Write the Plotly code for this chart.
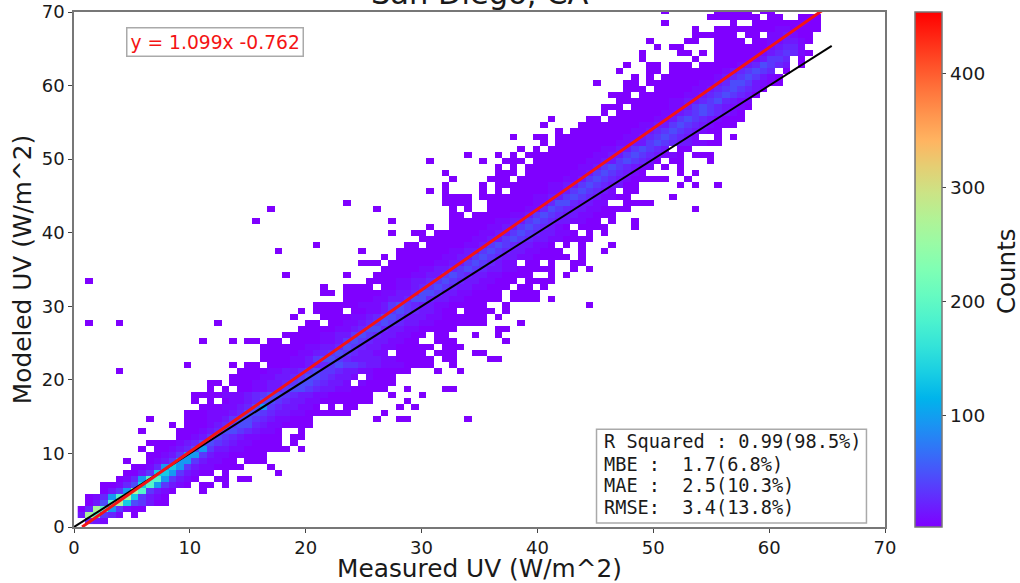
import numpy as np
import plotly.graph_objects as go

# Estimated 2-D histogram: one entry per row (bottom to top),
# each row a list of (first column, cell levels); '.' is an empty bin.
ROW_SEGMENTS = [
 [(1,"432")],
 [(0,"3a9542"),(7,"1")],
 [(0,"14a975211")],
 [(1,"1369a865311")],
 [(1,"12479a85321")],
 [(3,"1357a95321"),(16,"1")],
 [(3,"112468975321"),(16,"11"),(19,"1")],
 [(5,"12479975321"),(18,"11"),(21,"11")],
 [(6,"113588753211"),(19,"1"),(26,"1")],
 [(7,"112478753221111"),(25,"1")],
 [(6,"1"),(9,"123577532211"),(22,"111")],
 [(9,"1123577532211111")],
 [(8,"1"),(10,"11234675332211111"),(27,"1"),(29,"1")],
 [(9,"111123466543221111"),(28,"1")],
 [(13,"11235654322111"),(28,"11")],
 [(8,"1"),(13,"11123466543221"),(29,"1")],
 [(12,"1"),(14,"11123456643221111")],
 [(9,"1"),(14,"11122356654322111"),(39,"1"),(42,"11"),(51,"1")],
 [(14,"1112223466543322111111"),(40,"1")],
 [(16,"1112234675433221.1.11"),(42,"1"),(44,"1")],
 [(15,"1.1."),(19,"12234665433221111111"),(43,"1")],
 [(15,"111122234566543322111111"),(41,"1"),(45,"1")],
 [(17,"1.1."),(21,"11223356654332211111"),(43,"1"),(48,"11")],
 [(17,"11."),(20,"1112233456654332.21111")],
 [(20,"1111223345665433"),(36,"2.2111")],
 [(5,"1"),(21,"11112233456554332211111"),(47,"1"),(50,"1")],
 [(14,"1"),(20,"1"),(22,"11"),(25,"1112233456554332221111"),(49,"1")],
 [(24,"11112235665433332211111"),(48,"11"),(54,"11")],
 [(24,"11111223456543322.1111.111"),(52,"11")],
 [(24,"11111122334654332211111"),(48,"111")],
 [(16,"1"),(20,"1"),(22,"11"),(25,"11"),(28,"11112235654332211"),(47,"111"),(56,"1")],
 [(27,"1111122335654332211"),(47,"11"),(52,"1"),(55,"1")],
 [(29,"111112234664332211111"),(55,"11")],
 [(1,"1"),(5,"1"),(18,"1"),(30,"11."),(33,"112234565433221111111"),(58,"1")],
 [(28,"1"),(32,"1111223466533322111111"),(55,"1")],
 [(29,"1."),(31,"1111."),(36,"11223565433211.1111"),(56,"1")],
 [(31,"111111"),(37,"22235654332211111"),(56,"1"),(67,"1")],
 [(35,"111122334664332211111"),(57,"1111"),(62,"1")],
 [(32,"11."),(35,"111112233466533221111"),(57,"1111")],
 [(32,"1"),(35,"1111."),(40,"11223456543322111"),(58,"11"),(61,"1")],
 [(1,"1"),(38,"11112233456543322111"),(59,"1111")],
 [(27,"1"),(35,"1"),(39,"111112233565433221111"),(62,"1"),(64,"1")],
 [(40,"11111223345654332211111"),(65,"1"),(67,"1")],
 [(37,"111."),(41,"11111122335654322.11.1"),(65,"11")],
 [(40,"1."),(42,"11111122335654332211111"),(66,"1")],
 [(26,"1"),(37,"1"),(42,"1111111223356543322111"),(66,"1"),(69,"1")],
 [(31,"1"),(43,"11."),(46,"11111223565433221.1"),(66,"1"),(70,"1")],
 [(45,"11111112233565433221111")],
 [(41,"1"),(44,"11."),(47,"1111112233565433221.1.1")],
 [(46,"1"),(49,"1111122335654321.1111"),(73,"1")],
 [(23,"1"),(41,"1"),(49,"11111122335654332211.1"),(73,"1")],
 [(49,"11."),(52,"1111122356543322111")],
 [(25,"1"),(39,"1"),(49,"1.1"),(54,"1111122465433221111"),(81,"1")],
 [(35,"1"),(48,"1111"),(54,"1111112246643322"),(72,"1111")],
 [(48,"1111."),(53,"11111112233565432211"),(78,"1")],
 [(46,"1.1"),(53,"1.1."),(57,"11111223565432."),(72,"11")],
 [(48,"1"),(53,"1."),(55,"1111111223356543311"),(79,"1"),(81,"1"),(84,"1")],
 [(49,"1"),(54,"111."),(58,"11111122356543211111"),(80,"1")],
 [(48,"1"),(55,"111."),(59,"1111112235654321"),(79,"1"),(81,"1")],
 [(55,"1.1."),(59,"11111112235654322.1.1")],
 [(46,"1"),(53,"1"),(56,"111."),(60,"11111112233565431."),(78,"11"),(83,"1")],
 [(51,"1"),(55,"1"),(57,"1."),(59,"111111111223356543221"),(81,"111")],
 [(58,"1.1."),(62,"1111111223356543.11")],
 [(61,"1."),(63,"1111111122335654332211")],
 [(57,"1"),(60,"11."),(63,"1111111112234565432"),(84,"1"),(86,"1")],
 [(63,"1."),(65,"11111111223456543211")],
 [(61,"1"),(66,"111111112233565432111")],
 [(62,"1"),(67,"11."),(70,"111111223565432111")],
 [(69,"1."),(71,"11111122345654321")],
 [(69,"111."),(73,"1111122356543221")],
 [(71,"111111122334564322")],
 [(70,"111."),(74,"1111112234565431")],
 [(72,"111."),(76,"111112234565431")],
 [(68,"1"),(72,"11."),(75,"111111122346653211")],
 [(73,"1.1."),(77,"1111111234565321")],
 [(71,"1"),(75,"11."),(78,"11111112345654.1")],
 [(72,"1"),(75,"11."),(78,"111."),(82,"111112346543.1")],
 [(74,"1"),(81,"1."),(84,"1111123554.1")],
 [(74,"1"),(79,"11."),(82,"1."),(84,"1111112345421")],
 [(76,"1"),(78,"11"),(84,"111111123442")],
 [(75,"1"),(80,"11"),(84,"1111.11223321")],
 [(81,"111111.11.223211")],
 [(81,"1"),(84,"11111111221111")],
 [(77,"1"),(86,"1"),(89,"111111111")],
 [(83,"1111111.11"),(95,"111")],
 [(77,"1"),(84,"11111"),(90,"11")],
]
# Count that each level character stands for
LEVEL_COUNTS = {"1":2,"2":8,"3":16,"4":24,"5":34,"6":46,"7":95,"8":135,"9":190,"a":265}

COLORBAR_TICKS = [100, 200, 300, 400]
COUNT_MIN, COUNT_MAX = 2, 453.5
AXIS_TICKS = [0, 10, 20, 30, 40, 50, 60, 70]
FIT_SLOPE, FIT_INTERCEPT = 1.099, -0.762
ONE_TO_ONE_X = [0, 65.4]
FIT_X = [0.7, 65.4]
EQUATION = "y = 1.099x -0.762"
STATS = ["R Squared : 0.99(98.5%)", "MBE :  1.7(6.8%)", "MAE :  2.5(10.3%)", "RMSE:  3.4(13.8%)"]

N_COLS = 100
z = np.full((len(ROW_SEGMENTS), N_COLS), np.nan)
for r, segments in enumerate(ROW_SEGMENTS):
    for start, cells in segments:
        for i, ch in enumerate(cells):
            if ch != ".":
                z[r, start + i] = LEVEL_COUNTS[ch]

def rainbow_stops(n=21):
    stops = []
    for t in np.linspace(0, 1, n):
        rc = abs(2 * t - 0.5)
        g = np.sin(np.pi * t)
        b = np.cos(np.pi * t / 2)
        stops.append([float(t), "rgb(%d,%d,%d)" % (min(rc, 1) * 255, g * 255, b * 255)])
    return stops

FONT = "DejaVu Sans"
TEXT = "#1a1a1a"
fig = go.Figure()
fig.add_trace(go.Heatmap(
    z=z, x0=0.32 + 0.654 / 2, dx=0.654, y0=0.4 + 0.8155 / 2, dy=0.8155,
    zmin=COUNT_MIN, zmax=COUNT_MAX, colorscale=rainbow_stops(), hoverongaps=False,
    colorbar=dict(
        x=(915 - 74) / 811, xanchor="left", xpad=0, y=0, yanchor="bottom", ypad=0,
        len=1, lenmode="fraction", thickness=27, thicknessmode="pixels",
        tickvals=COLORBAR_TICKS, ticks="outside", ticklen=4, tickcolor="#444",
        tickfont=dict(family=FONT, size=18.5, color=TEXT),
        outlinecolor="#777", outlinewidth=1.5,
    ),
))
fig.add_trace(go.Scatter(x=ONE_TO_ONE_X, y=ONE_TO_ONE_X, mode="lines",
                         line=dict(color="black", width=2), showlegend=False))
fig.add_trace(go.Scatter(x=FIT_X, y=[FIT_SLOPE * v + FIT_INTERCEPT for v in FIT_X], mode="lines",
                         line=dict(color="#f41414", width=3), showlegend=False))

axis = dict(range=[0, 70], tickvals=AXIS_TICKS, ticks="outside", ticklen=4, tickcolor="#444",
            showline=True, mirror=True, linecolor="#777", linewidth=1.5, automargin=False,
            ticklabeloverflow="allow", showgrid=False, zeroline=False,
            tickfont=dict(family=FONT, size=18, color=TEXT))
fig.update_xaxes(**axis, title=dict(text="Measured UV (W/m^2)", standoff=7,
                                    font=dict(family=FONT, size=24.8, color=TEXT)))
fig.update_yaxes(**axis, title=dict(text="Modeled UV (W/m^2)", standoff=3,
                                    font=dict(family=FONT, size=24.8, color=TEXT)))

stat_lines = [dict(text=s.replace(" ", "\u00a0"), xref="x", yref="y", x=45.6, y=yy, xanchor="left",
                   yanchor="middle", showarrow=False,
                   font=dict(family="DejaVu Sans Mono", size=18.6, color=TEXT))
              for s, yy in zip(STATS, [11.6, 8.55, 5.6, 2.65])]

fig.update_layout(
    width=1020, height=583, margin=dict(l=74, r=135, t=12, b=56, autoexpand=False),
    paper_bgcolor="white", plot_bgcolor="white", showlegend=False,
    shapes=[dict(type="rect", xref="x", yref="y", x0=45.1, x1=68.4, y0=0.55, y1=13.3,
                 fillcolor="white", line=dict(color="#aaaaaa", width=1.5), layer="above")],
    annotations=[
        dict(text="San Diego, CA", xref="paper", yref="paper", x=0.5, y=1, yanchor="bottom",
             xanchor="center", yshift=-1, showarrow=False, font=dict(family=FONT, size=30.5, color=TEXT)),
        dict(text="Counts", xref="paper", yref="paper", x=(1006 - 74) / 811, y=(527 - 271) / 515,
             xanchor="center", yanchor="middle", textangle=-90, showarrow=False,
             font=dict(family=FONT, size=24.5, color=TEXT)),
        dict(text=EQUATION, xref="x", yref="y", x=4.5, y=65.9, xanchor="left", yanchor="middle",
             showarrow=False, font=dict(family=FONT, size=18.7, color="#f41414"),
             bgcolor="white", bordercolor="#aaaaaa", borderwidth=1.5, borderpad=3),
    ] + stat_lines,
)
# Remove the browser's default page margin so the figure fills the 1020x583 window exactly.
fig.write_html("out.html", config={"displayModeBar": False},
               post_script="document.body.style.margin='0';")
